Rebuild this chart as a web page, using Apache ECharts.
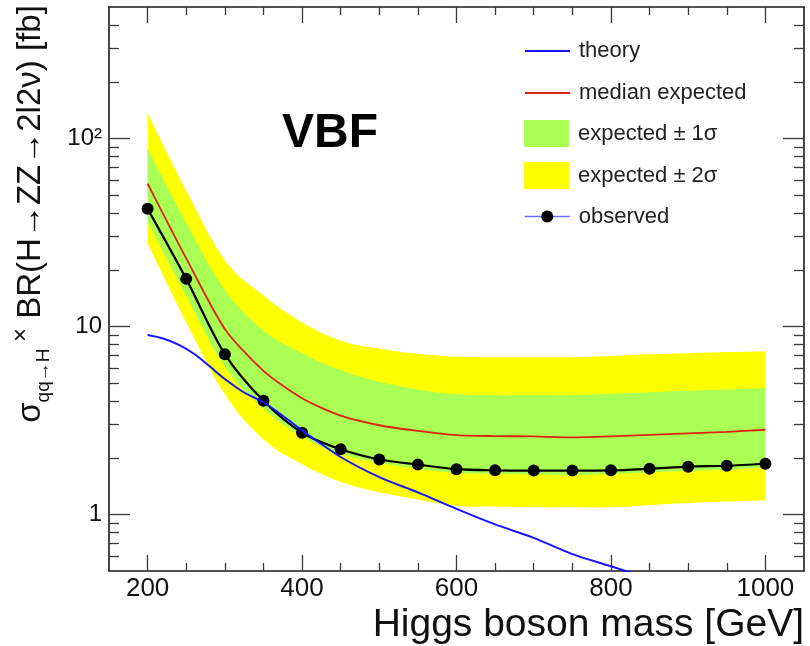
<!DOCTYPE html>
<html><head><meta charset="utf-8">
<script src="https://cdn.jsdelivr.net/npm/echarts@6/dist/echarts.min.js"></script>
<style>html,body{margin:0;padding:0;background:#fff}#c{width:810px;height:646px}</style>
</head><body><div id="c"></div>
<script>
// ---- data ----
const masses = [200,250,300,350,400,450,500,550,600,650,700,750,800,850,900,950,1000];
const observed = [42.2,17.9,7.12,4.02,2.72,2.22,1.96,1.84,1.74,1.715,1.71,1.71,1.715,1.75,1.795,1.815,1.86];
const medianExpected = [57.5,23,9.7,5.8,4.15,3.35,2.98,2.78,2.64,2.61,2.60,2.57,2.60,2.65,2.70,2.75,2.82];
const exp1Lo = [36,14.5,6.1,3.65,2.6,2.1,1.88,1.75,1.66,1.64,1.63,1.62,1.64,1.67,1.70,1.73,1.78];
const exp1Hi = [88.7,35.5,15.6,9.5,7.2,5.85,5.07,4.62,4.35,4.3,4.3,4.3,4.38,4.47,4.55,4.62,4.69];
const exp2Lo = [27.6,10.5,4.35,2.5,1.85,1.49,1.31,1.2,1.11,1.1,1.09,1.09,1.09,1.12,1.15,1.17,1.19];
const exp2Hi = [136,52.8,22.5,14.6,10.5,8.4,7.6,7.15,6.9,6.86,6.86,6.86,6.95,7.1,7.2,7.3,7.36];
const theoryMass = [200,220,240,260,280,300,325,350,375,400,450,500,550,600,650,700,750,800,850];
const theory = [9.0,8.63,8.0,7.15,6.15,5.25,4.45,3.95,3.35,2.8,2.02,1.58,1.31,1.07,0.885,0.75,0.615,0.53,0.455];
const xMajorTicks = [200,400,600,800,1000];
const xMinorTicks = [250,300,350,450,500,550,650,700,750,850,900,950];
const yMajorTicks = [1,10,100];
const yMinorTicks = [0.6,0.7,0.8,0.9,2,3,4,5,6,7,8,9,20,30,40,50,60,70,80,90,200,300,400];

const FONT = "'Liberation Sans', Arial, Helvetica, sans-serif";
const chart = echarts.init(document.getElementById('c'), null, {renderer:'canvas'});

// cubic segments through the edge points (pixel positions come from api.coord)
function edgePath(p, cont) {
  const t = 0.18;
  let d = cont ? '' : 'M' + p[0][0] + ' ' + p[0][1];
  for (let i = 0; i < p.length - 1; i++) {
    const p0 = p[Math.max(i-1,0)], p1 = p[i], p2 = p[i+1], p3 = p[Math.min(i+2,p.length-1)];
    const c1 = [p1[0] + (p2[0]-p0[0])*t, p1[1] + (p2[1]-p0[1])*t];
    const c2 = [p2[0] - (p3[0]-p1[0])*t, p2[1] - (p3[1]-p1[1])*t];
    d += ' C' + c1[0] + ' ' + c1[1] + ' ' + c2[0] + ' ' + c2[1] + ' ' + p2[0] + ' ' + p2[1];
  }
  return d;
}
// band between a smoothed upper edge and a smoothed lower edge, straight ends
function smoothBand(lo, hi, color) {
  return function (params, api) {
    if (params.dataIndex !== 0) return null;
    const up = masses.map((m, i) => api.coord([m, hi[i]]));
    const dn = masses.map((m, i) => api.coord([m, lo[i]])).reverse();
    const path = edgePath(up, false) + ' L' + dn[0][0] + ' ' + dn[0][1] + edgePath(dn, true) + ' Z';
    return {type:'path', shape:{pathData:path}, style:{fill:color, stroke:null}};
  };
}

const tickStyle = {color:'#3a3a3a', width:1.3};
const lineStyleAx = {color:'#1a1a1a', width:1.6};
function xAx(pos, major, labels) {
  return {
    type:'value', min:150, max:1050, position:pos, gridIndex:0,
    splitLine:{show:false},
    axisLine:{show:major, onZero:false, lineStyle:lineStyleAx},
    axisTick:{show:true, inside:true, length: major?16:8, customValues: major?xMajorTicks:xMinorTicks, lineStyle:tickStyle},
    axisLabel: labels ? {show:true, customValues:xMajorTicks, fontSize:26, color:'#111', margin:5, fontFamily:FONT,
      formatter: v => String(Math.round(v))} : {show:false}
  };
}
function yAx(pos, major, labels) {
  return {
    type:'log', logBase:10, min:0.5, max:500, position:pos, gridIndex:0,
    splitLine:{show:false},
    axisLine:{show:major, onZero:false, lineStyle:lineStyleAx},
    axisTick:{show:true, inside:true, length: major?21:10, customValues: major?yMajorTicks:yMinorTicks, lineStyle:tickStyle},
    axisLabel: labels ? {show:true, customValues:yMajorTicks, fontSize:24, color:'#111', margin:7, fontFamily:FONT,
      formatter: v => (Math.abs(v-100) < 1e-6 ? '10\u00B2' : String(Math.round(v)))} : {show:false}
  };
}

const xa0 = xAx('bottom', true, true);
xa0.name = 'Higgs boson mass [GeV]';
xa0.nameLocation = 'end';
xa0.nameGap = 0;
xa0.nameTextStyle = {fontSize:39, color:'#111', fontFamily:FONT, align:'right', verticalAlign:'top', padding:[35,0,0,0]};

const legendText = {fontSize:22, color:'#222', fontFamily:FONT, padding:[0,0,0,4]};
const hideSym = {opacity:0};

const option = {
  animation:false,
  backgroundColor:'#fff',
  grid:{left:109, right:6, top:7, bottom:75, containLabel:false},
  xAxis:[xa0, xAx('bottom', false, false), xAx('top', true, false), xAx('top', false, false)],
  yAxis:[yAx('left', true, true), yAx('left', false, false), yAx('right', true, false), yAx('right', false, false)],
  legend:[
    {data:[{name:'theory', itemStyle:hideSym},{name:'median expected', itemStyle:hideSym}], orient:'vertical', left:524, top:40, padding:0,
     itemWidth:45, itemHeight:14, itemGap:20, selectedMode:false, textStyle:legendText},
    {data:[{name:'expected ± 1σ', icon:'rect'},{name:'expected ± 2σ', icon:'rect'}], orient:'vertical', left:524, top:120, padding:0,
     itemWidth:45, itemHeight:27, itemGap:15, selectedMode:false, textStyle:legendText},
    {data:[{name:'observed', lineStyle:{color:'#6b6bff', width:1.5}}], orient:'vertical', left:524, top:205.5, padding:0,
     itemWidth:45, itemHeight:15, selectedMode:false, textStyle:legendText}
  ],
  graphic:[
    {type:'text', x:282, y:134, z:100, style:{text:'VBF', font:"bold 48px 'Liberation Sans', Arial, sans-serif", fill:'#000', align:'left', verticalAlign:'middle'}},
    {type:'text', x:31, y:214, rotation:Math.PI/2, z:100, style:{
      text:'{s|σ}{sub|qq→H}{x| ×} {m|BR(H→ZZ→2l2ν) [fb]}',
      align:'center', verticalAlign:'middle', fill:'#111', fontFamily:FONT, fontSize:33,
      rich:{
        s:{fontSize:33, fontFamily:FONT, fill:'#111', lineHeight:44},
        sub:{fontSize:19, fontFamily:FONT, fill:'#111', verticalAlign:'bottom', lineHeight:44},
        x:{fontSize:24, fontFamily:FONT, fill:'#111', verticalAlign:'top', lineHeight:44},
        m:{fontSize:33, fontFamily:FONT, fill:'#111', lineHeight:44}
      }}}
  ],
  series:[
    {type:'custom', name:'expected ± 2σ', xAxisIndex:0, yAxisIndex:0, z:1, silent:true,
     itemStyle:{color:'#ffff00'}, encode:{x:0, y:[1,2]},
     renderItem:smoothBand(exp2Lo, exp2Hi, '#ffff00'),
     data:masses.map((m,i)=>[m, exp2Lo[i], exp2Hi[i]])},
    {type:'custom', name:'expected ± 1σ', xAxisIndex:0, yAxisIndex:0, z:2, silent:true,
     itemStyle:{color:'#aaff55'}, encode:{x:0, y:[1,2]},
     renderItem:smoothBand(exp1Lo, exp1Hi, '#aaff55'),
     data:masses.map((m,i)=>[m, exp1Lo[i], exp1Hi[i]])},
    {type:'line', name:'median expected', xAxisIndex:0, yAxisIndex:0, z:3, symbol:'none', smooth:0.25,
     itemStyle:{color:'#dd2211'}, lineStyle:{color:'#dd2211', width:1.8},
     data:masses.map((m,i)=>[m, medianExpected[i]])},
    {type:'line', name:'observed', xAxisIndex:0, yAxisIndex:0, z:4, symbol:'circle', symbolSize:12, smooth:0.3,
     itemStyle:{color:'#000'}, lineStyle:{color:'#000', width:2.2},
     data:masses.map((m,i)=>[m, observed[i]])},
    {type:'line', name:'theory', xAxisIndex:0, yAxisIndex:0, z:5, symbol:'none', smooth:0.3,
     itemStyle:{color:'#1515ff'}, lineStyle:{color:'#1515ff', width:2},
     data:theoryMass.map((m,i)=>[m, theory[i]])}
  ]
};
chart.setOption(option);
</script>
</body></html>
